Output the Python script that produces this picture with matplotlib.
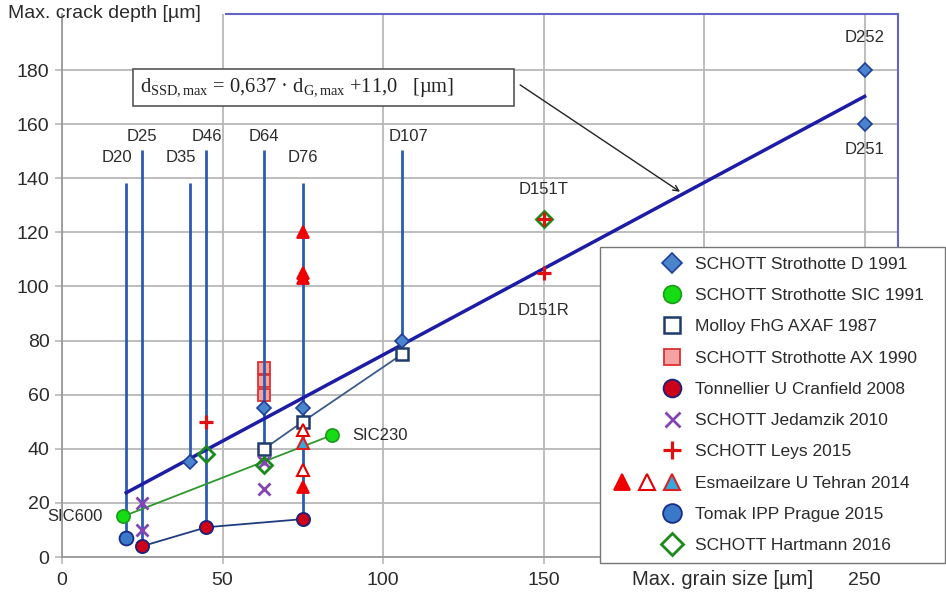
import matplotlib
matplotlib.use("Agg")
import matplotlib.pyplot as plt
from matplotlib.legend_handler import HandlerBase
from matplotlib.lines import Line2D
import numpy as np

plt.rcParams['font.family'] = ['Liberation Sans', 'DejaVu Sans']
plt.rcParams['mathtext.fontset'] = 'custom'
plt.rcParams['mathtext.rm'] = 'Liberation Serif'
plt.rcParams['mathtext.it'] = 'Liberation Serif:italic'

TEXT = '#2b2b2b'
GRID = '#b8b8b8'

# --- DATA --- #

# grain classes (vertical markers)
grain_labels = ["D20", "D25", "D35", "D46", "D64", "D76", "D107"]
grain_sizes = [20, 25, 40, 45, 63, 75, 106]
grain_upper_row = [False, True, False, True, True, False, True]
grain_line_bottoms = [7, 4, 35, 11, 34, 14, 80]

# fit: d_SSD,max = 0.637 * d_G,max + 11.0
fit_slope = 0.637
fit_offset = 11.0
fit_range = [20, 250]

strothotte_d_x = [40, 63, 75, 106, 250, 250]
strothotte_d_y = [35, 55, 55, 80, 160, 180]

strothotte_sic_x = [19, 84]
strothotte_sic_y = [15, 45]

molloy_x = [63, 75, 106]
molloy_y = [40, 50, 75]

strothotte_ax_x = [63, 63, 63]
strothotte_ax_y = [60, 65, 70]

tonnellier_x = [25, 45, 75]
tonnellier_y = [4, 11, 14]

jedamzik_x = [25, 25, 63, 63]
jedamzik_y = [20, 10, 25, 35]

leys_x = [45, 150, 150]
leys_y = [50, 105, 125]

esmaeilzare_filled_x = [75, 75, 75, 75]
esmaeilzare_filled_y = [120, 105, 103, 26]
esmaeilzare_open_x = [75, 75]
esmaeilzare_open_y = [47, 32]
esmaeilzare_blue_x = [75]
esmaeilzare_blue_y = [42]

tomak_x = [20]
tomak_y = [7]

hartmann_x = [45, 63, 150]
hartmann_y = [38, 34, 125]


# --- LEGEND HANDLER --- #

class RightAlignedMarkers(HandlerBase):
    """Draws one or more markers, packed against the right end of the handle box."""

    def __init__(self, scale=1.35, slots=3):
        super().__init__()
        self.scale = scale
        self.slots = slots

    def create_artists(self, legend, orig_handle, xdescent, ydescent, width, height, fontsize, trans):
        handles = orig_handle if isinstance(orig_handle, tuple) else (orig_handle,)
        step = width / self.slots
        y = height / 2 - ydescent
        artists = []
        for i, h in enumerate(handles[::-1]):
            x = -xdescent + width - step * (i + 0.5)
            m = Line2D([x], [y], linestyle='none',
                       marker=h.get_marker(),
                       markersize=h.get_markersize() * self.scale,
                       markerfacecolor=h.get_markerfacecolor(),
                       markeredgecolor=h.get_markeredgecolor(),
                       markeredgewidth=h.get_markeredgewidth(),
                       transform=trans)
            artists.append(m)
        return artists


# --- PLOT --- #

fig = plt.figure(figsize=(9.46, 5.96), dpi=100)
ax = fig.add_axes([62 / 946, 1 - 557 / 596, (898 - 62) / 946, (557 - 14) / 596])

ax.set_xlim(0, 260.4)
ax.set_ylim(0, 200.7)

ax.set_xticks([0, 50, 100, 150, 200, 250])
ax.set_xticklabels(["0", "50", "100", "150", "", "250"])
ax.set_yticks(np.arange(0, 181, 20))
ax.tick_params(axis='both', colors=GRID, labelcolor=TEXT, labelsize=14, length=5, width=1.2)
ax.tick_params(axis='x', pad=6)
ax.tick_params(axis='y', pad=4)
ax.grid(True, color=GRID, linewidth=1.3, zorder=0)
ax.set_axisbelow(True)

for side in ['left', 'bottom']:
    ax.spines[side].set_color('#9a9a9a')
    ax.spines[side].set_linewidth(1.3)
for side in ['top', 'right']:
    ax.spines[side].set_color('#6464cc')
    ax.spines[side].set_linewidth(1.5)
ax.spines['top'].set_bounds(51, 260.4)

# grain class lines and labels
label_shift = {"D20": -3, "D35": -3, "D107": 2}
for name, size, upper, bottom in zip(grain_labels, grain_sizes, grain_upper_row, grain_line_bottoms):
    top = 150.5 if upper else 138.3
    ax.vlines(size, bottom, top, color='#2a5db0', linewidth=2, zorder=3)
    ax.text(size + label_shift.get(name, 0), 155.5 if upper else 147.5, name,
            ha='center', va='center', fontsize=12, color=TEXT)

# regression line
fit_x = np.array(fit_range)
ax.plot(fit_x, fit_slope * fit_x + fit_offset, color='#1c1ca6', linewidth=2.5, zorder=4)

# connecting lines of the series
ax.plot(strothotte_sic_x, strothotte_sic_y, color='#2c9a2c', linewidth=1.3, zorder=4)
ax.plot(molloy_x, molloy_y, color='#3c5a8c', linewidth=1.3, zorder=4)
ax.plot(tonnellier_x, tonnellier_y, color='#203c80', linewidth=1.3, zorder=4)

mk = dict(linestyle='none', zorder=5)
h_ax = ax.plot(strothotte_ax_x, strothotte_ax_y, marker='s', ms=9, mfc='#f4a2a2', mec='#dd3030',
               mew=1.3, label='SCHOTT Strothotte AX 1990', linestyle='none', zorder=2)[0]
h_d = ax.plot(strothotte_d_x, strothotte_d_y, marker='D', ms=7.5, mfc='#4a84cc', mec='#1f3f99',
              mew=1.2, label='SCHOTT Strothotte D 1991', **mk)[0]
h_sic = ax.plot(strothotte_sic_x, strothotte_sic_y, marker='o', ms=9.5, mfc='#14dd14', mec='#1b9a1b',
                mew=1.2, label='SCHOTT Strothotte SIC 1991', **mk)[0]
h_molloy = ax.plot(molloy_x, molloy_y, marker='s', ms=8.5, mfc='white', mec='#1f3a6e',
                   mew=1.8, label='Molloy FhG AXAF 1987', **mk)[0]
h_tonn = ax.plot(tonnellier_x, tonnellier_y, marker='o', ms=9.5, mfc='#cc0018', mec='#1a237e',
                 mew=1.3, label='Tonnellier U Cranfield 2008', **mk)[0]
h_jed = ax.plot(jedamzik_x, jedamzik_y, marker='x', ms=8, mec='#8444b4',
                mew=2, label='SCHOTT Jedamzik 2010', **mk)[0]
h_tri_f = ax.plot(esmaeilzare_filled_x, esmaeilzare_filled_y, marker='^', ms=9, mfc='#ee0000',
                  mec='#ee0000', mew=1.3, **mk)[0]
h_tri_o = ax.plot(esmaeilzare_open_x, esmaeilzare_open_y, marker='^', ms=9, mfc='white',
                  mec='#e00000', mew=1.5, **mk)[0]
h_tri_b = ax.plot(esmaeilzare_blue_x, esmaeilzare_blue_y, marker='^', ms=9, mfc='#33aadd',
                  mec='#dd2020', mew=1.5, **mk)[0]
h_tomak = ax.plot(tomak_x, tomak_y, marker='o', ms=10, mfc='#3a78c8', mec='#1a2a8a',
                  mew=1.3, label='Tomak IPP Prague 2015', **mk)[0]
h_hart = ax.plot(hartmann_x, hartmann_y, marker='D', ms=8, mfc='none', mec='#1a8a1a',
                 mew=2, label='SCHOTT Hartmann 2016', **mk)[0]
h_leys = ax.plot(leys_x, leys_y, marker='+', ms=10, mec='#dd1111',
                 mew=2.3, label='SCHOTT Leys 2015', linestyle='none', zorder=6)[0]

# point labels
ax.text(12.8, 15, "SIC600", ha='right', va='center', fontsize=12, color=TEXT)
ax.text(90.3, 45, "SIC230", ha='left', va='center', fontsize=12, color=TEXT)
ax.text(150, 136, "D151T", ha='center', va='center', fontsize=12, color=TEXT)
ax.text(150, 91, "D151R", ha='center', va='center', fontsize=12, color=TEXT)
ax.text(250, 192, "D252", ha='center', va='center', fontsize=12, color=TEXT)
ax.text(250, 150.5, "D251", ha='center', va='center', fontsize=12, color=TEXT)

# fit equation with arrow to the line
ax.text(24.3, 173.4,
        r"$\mathregular{d_{SSD,max}}$ = 0,637 · $\mathregular{d_{G,max}}$ +11,0   [µm]           ",
        ha='left', va='center', fontsize=14.8, family='Liberation Serif', color='#222222', zorder=7,
        bbox=dict(boxstyle='square,pad=0.36', facecolor='white', edgecolor='#555555', linewidth=1.2))
ax.annotate("", xy=(192.5, 135), xytext=(142.7, 174.5),
            arrowprops=dict(arrowstyle='->', color='#222222', linewidth=1, shrinkA=0, shrinkB=0),
            zorder=7)

# axis titles
fig.text(8 / 946, 1 - 14 / 596, "Max. crack depth [µm]", ha='left', va='center',
         fontsize=14, color=TEXT)
ax.text(205.6, -0.042, "Max. grain size [µm]", transform=ax.get_xaxis_transform(),
        ha='center', va='center', fontsize=14.5, color=TEXT)

# legend, stretched to the right edge of the figure
handles = [h_d, h_sic, h_molloy, h_ax, h_tonn, h_jed, h_leys,
           (h_tri_f, h_tri_o, h_tri_b), h_tomak, h_hart]
labels = ['SCHOTT Strothotte D 1991', 'SCHOTT Strothotte SIC 1991', 'Molloy FhG AXAF 1987',
          'SCHOTT Strothotte AX 1990', 'Tonnellier U Cranfield 2008', 'SCHOTT Jedamzik 2010',
          'SCHOTT Leys 2015', 'Esmaeilzare U Tehran 2014', 'Tomak IPP Prague 2015',
          'SCHOTT Hartmann 2016']
handler = RightAlignedMarkers()
leg = fig.legend(handles, labels, loc='upper left',
                 bbox_to_anchor=(600 / 946, 1 - 247 / 596, 345 / 946, 0), mode='expand',
                 bbox_transform=fig.transFigure, borderaxespad=0, borderpad=0.55,
                 handlelength=4.3, handletextpad=0.6, labelspacing=0.93, fontsize=12.5,
                 fancybox=False, framealpha=1, edgecolor='#777777',
                 handler_map={Line2D: handler, tuple: handler})
leg.get_frame().set_linewidth(1.0)
for t in leg.get_texts():
    t.set_color(TEXT)

fig.savefig("out.png", dpi=100)
